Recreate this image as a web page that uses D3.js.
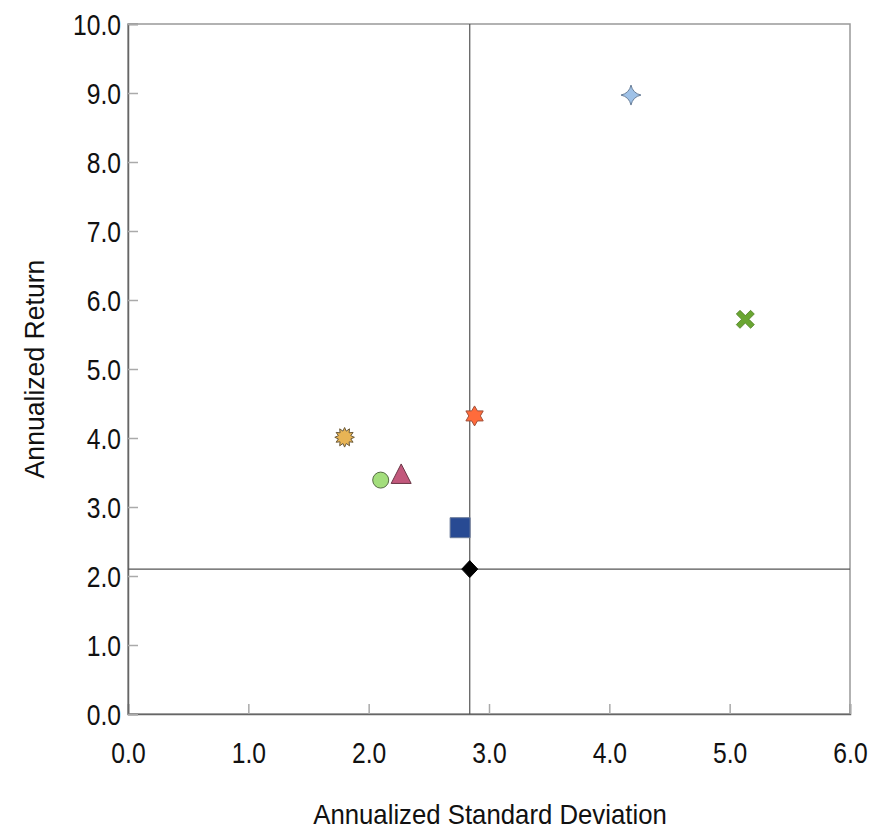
<!DOCTYPE html>
<html>
<head>
<meta charset="utf-8">
<script src="https://cdn.jsdelivr.net/npm/d3@7"></script>
<style>
  html, body { margin: 0; padding: 0; background: #fff; }
  svg { display: block; }
  text { font-family: "Liberation Sans Narrow", "Arial Narrow", "Liberation Sans", Arial, sans-serif; fill: #111; }
</style>
</head>
<body>
<div id="chart"></div>
<script>
// Risk / return of each portfolio
const names   = ["Fund A", "Fund B", "Fund C", "Fund D", "Fund E", "Fund F", "Fund G", "Benchmark"];
const stdDev  = [4.18, 5.13, 2.88, 1.80, 2.10, 2.27, 2.76, 2.84];
const returns = [8.97, 5.72, 4.32, 4.01, 3.39, 3.45, 2.70, 2.10];
const shapes  = ["star4", "cross", "star6", "burst", "circle", "triangle", "square", "diamond"];
const fills   = ["#9fc2e8", "#6aa632", "#ff6b3b", "#e8b455", "#a3de7c", "#c2587c", "#284a93", "#000000"];

const xTicks = [0, 1, 2, 3, 4, 5, 6];
const yTicks = [0, 1, 2, 3, 4, 5, 6, 7, 8, 9, 10];
const xTitle = "Annualized Standard Deviation";
const yTitle = "Annualized Return";

const W = 880, H = 833;
const L = 128, R = 850, T = 24, B = 714;
const narrow = 0.85;   // condensed look for the labels

const svg = d3.select("#chart").append("svg").attr("width", W).attr("height", H);

const x = d3.scaleLinear().domain([0, 6]).range([L, R]);
const y = d3.scaleLinear().domain([0, 10]).range([B, T]);

// frame
svg.append("rect")
  .attr("x", L).attr("y", T).attr("width", R - L).attr("height", B - T)
  .attr("fill", "none").attr("stroke", "#999").attr("stroke-width", 1.5);

// axes: ticks point into the plot
const xAxis = svg.append("g").attr("transform", `translate(0,${B})`)
  .call(d3.axisBottom(x).tickValues(xTicks).tickSize(-10).tickPadding(0).tickFormat(d3.format(".1f")));
const yAxis = svg.append("g").attr("transform", `translate(${L},0)`)
  .call(d3.axisLeft(y).tickValues(yTicks).tickSize(-10).tickPadding(0).tickFormat(d3.format(".1f")));

[xAxis, yAxis].forEach(g => {
  g.select(".domain").attr("stroke", "#666").attr("stroke-width", 1.5);
  g.selectAll(".tick line").attr("stroke", "#aaa").attr("stroke-width", 1.5);
  g.selectAll(".tick text").style("font-size", "29px").attr("fill", "#111")
    .attr("x", 0).attr("y", 0);
});
xAxis.selectAll(".tick text").attr("dy", null)
  .attr("transform", `translate(0,49) scale(${narrow},1)`);
yAxis.selectAll(".tick text").attr("dy", "0.36em")
  .attr("transform", `translate(-7,0) scale(${narrow},1)`);

// crosshair through the benchmark
const bi = names.indexOf("Benchmark");
svg.append("line")
  .attr("x1", x(stdDev[bi])).attr("x2", x(stdDev[bi]))
  .attr("y1", T).attr("y2", B)
  .attr("stroke", "#555").attr("stroke-width", 1.2);
svg.append("line")
  .attr("x1", L).attr("x2", R)
  .attr("y1", y(returns[bi])).attr("y2", y(returns[bi]))
  .attr("stroke", "#555").attr("stroke-width", 1.2);

// marker shapes
function starPath(points, rOut, rIn, rot) {
  const pts = [];
  for (let i = 0; i < points * 2; i++) {
    const r = i % 2 === 0 ? rOut : rIn;
    const a = rot + i * Math.PI / points;
    pts.push([r * Math.sin(a), -r * Math.cos(a)]);
  }
  return "M" + pts.map(p => p.join(",")).join("L") + "Z";
}
function concaveStar4(r) {
  // four-point star with curved sides
  const p = d3.path();
  const k = r * 0.18;
  p.moveTo(0, -r);
  p.quadraticCurveTo(k, -k, r, 0);
  p.quadraticCurveTo(k, k, 0, r);
  p.quadraticCurveTo(-k, k, -r, 0);
  p.quadraticCurveTo(-k, -k, 0, -r);
  p.closePath();
  return p.toString();
}
function crossPath(r, w) {
  const pts = [[-w, 0], [-r, -r + w], [-r + w, -r], [0, -w], [r - w, -r], [r, -r + w],
               [w, 0], [r, r - w], [r - w, r], [0, w], [-r + w, r], [-r, r - w]];
  return "M" + pts.map(p => p.join(",")).join("L") + "Z";
}
const shapePath = {
  star4: () => concaveStar4(10),
  cross: () => crossPath(9, 3.7),
  star6: () => starPath(6, 10, 5.8, 0),
  burst: () => starPath(12, 9.8, 6.4, 0),
  circle: () => { const p = d3.path(); p.arc(0, 0, 8, 0, 2 * Math.PI); p.closePath(); return p.toString(); },
  triangle: () => "M0,-12L10,7.5L-10,7.5Z",
  square: () => "M-10,-10L10,-10L10,10L-10,10Z",
  diamond: () => "M0,-8.5L8,0L0,8.5L-8,0Z"
};
const strokes = {
  star4: "#6a7f99", cross: "#4f7f24", star6: "#a0503a", burst: "#6b5a3a",
  circle: "#556b44", triangle: "#6b3646", square: "#6b7a99", diamond: "#000"
};

svg.append("g").selectAll("path")
  .data(names.map((n, i) => ({ n, sd: stdDev[i], ret: returns[i], shape: shapes[i], fill: fills[i] })))
  .join("path")
  .attr("transform", d => `translate(${x(d.sd)},${y(d.ret)})`)
  .attr("d", d => shapePath[d.shape]())
  .attr("fill", d => d.fill)
  .attr("stroke", d => strokes[d.shape])
  .attr("stroke-width", d => d.shape === "cross" ? 0.8 : 1);

// axis titles
svg.append("text")
  .attr("transform", `translate(${(L + R) / 2 + 1},824) scale(0.92,1)`)
  .attr("text-anchor", "middle")
  .style("font-size", "28px")
  .text(xTitle);
svg.append("text")
  .attr("transform", `translate(44,369) rotate(-90) scale(0.95,1)`)
  .attr("text-anchor", "middle")
  .style("font-size", "28px")
  .text(yTitle);
</script>
</body>
</html>
